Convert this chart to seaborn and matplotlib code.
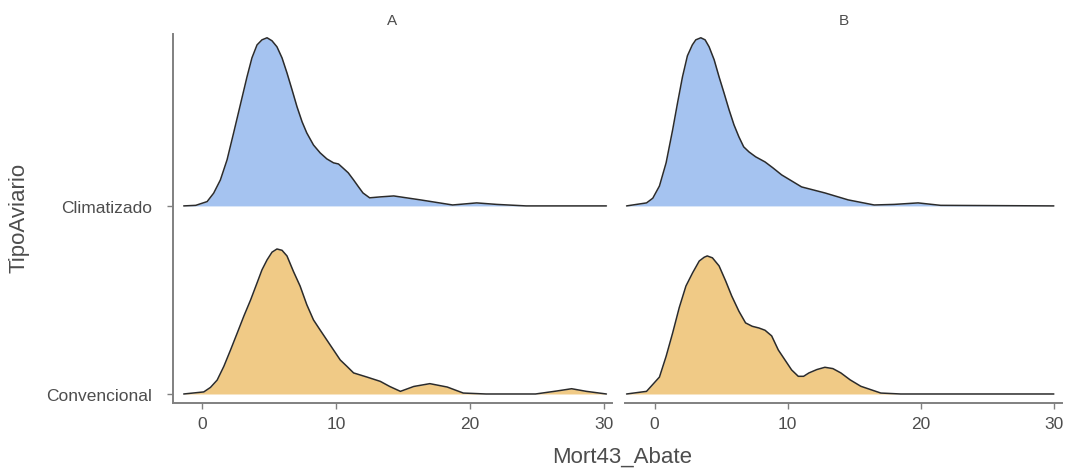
import matplotlib
matplotlib.use("Agg")
import matplotlib.pyplot as plt
import numpy as np
import pandas as pd
import seaborn as sns

# ridge heights (1.0 = spacing between the two ridges)
a_clim_x = [-1.4, -0.5, 0.35, 0.84, 1.34, 1.84, 2.33, 2.83, 3.33, 3.7, 4.08, 4.45, 4.83, 5.2,
            5.57, 5.95, 6.32, 6.7, 7.07, 7.45, 7.8, 8.3, 8.8, 9.3, 9.8, 10.17, 10.5, 10.9,
            11.3, 11.65, 12.0, 12.5, 13.3, 14.3, 16.3, 18.7, 20.5, 22.0, 24.2, 30.2]
a_clim_h = [0, .003, .023, .068, .138, .245, .388, .537, .686, .787, .856, .883, .894, .878,
            .846, .787, .707, .617, .527, .447, .388, .324, .282, .250, .229, .223, .202, .176,
            .138, .103, .069, .043, .048, .053, .032, .005, .016, .008, 0, 0]

b_clim_x = [-2.1, -0.6, -0.13, 0.37, 0.87, 1.36, 1.73, 2.1, 2.47, 2.84, 3.1, 3.48, 3.8, 4.1,
            4.48, 4.85, 5.22, 5.6, 5.97, 6.34, 6.7, 7.1, 7.6, 8.3, 8.9, 9.55, 11.05, 12.8,
            14.55, 16.5, 18.0, 19.8, 21.5, 30.0]
b_clim_h = [0, .016, .041, .106, .229, .404, .548, .686, .798, .856, .883, .894, .883, .846,
            .777, .686, .601, .511, .431, .367, .314, .287, .261, .234, .202, .165, .101, .069,
            .032, .005, .008, .016, .003, 0]

a_conv_x = [-1.4, 0.1, 0.6, 1.1, 1.6, 2.1, 2.6, 3.1, 3.6, 4.08, 4.45, 4.83, 5.2, 5.57, 5.95,
            6.32, 6.8, 7.3, 7.8, 8.3, 8.8, 9.3, 9.8, 10.3, 10.8, 11.3, 12.3, 13.3, 14.0, 14.8,
            15.8, 17.0, 18.3, 19.5, 21.2, 24.9, 26.5, 27.6, 28.7, 30.2]
a_conv_h = [0, .011, .035, .074, .147, .234, .324, .415, .500, .590, .660, .713, .754, .771, .764,
            .734, .652, .574, .475, .394, .340, .287, .234, .181, .147, .112, .090, .067, .040, .014,
            .040, .055, .037, .005, 0, 0, .016, .028, .014, 0]

b_conv_x = [-2.1, -0.6, 0.37, 0.87, 1.36, 1.86, 2.36, 2.86, 3.36, 3.73, 3.96, 4.35, 4.85, 5.35,
            5.8, 6.34, 6.84, 7.34, 7.84, 8.3, 8.8, 9.3, 9.8, 10.3, 10.8, 11.2, 11.6, 12.2, 12.8,
            13.4, 14.0, 14.7, 15.5, 17.0, 18.5, 30.0]
b_conv_h = [0, .014, .090, .200, .324, .460, .574, .644, .707, .727, .734, .724, .681, .600,
            .521, .440, .378, .360, .351, .339, .309, .234, .181, .128, .094, .094, .112, .130, .142,
            .135, .112, .075, .041, .005, 0, 0]

panels = ["A", "B"]
tipos = ["Convencional", "Climatizado"]
colors = {"Climatizado": "#A5C3F0", "Convencional": "#F0CA86"}

curves = {
    ("A", "Climatizado"): (a_clim_x, a_clim_h),
    ("B", "Climatizado"): (b_clim_x, b_clim_h),
    ("A", "Convencional"): (a_conv_x, a_conv_h),
    ("B", "Convencional"): (b_conv_x, b_conv_h),
}

rows = []
for (panel, tipo), (xs, hs) in curves.items():
    for x, h in zip(xs, hs):
        rows.append({"panel": panel, "tipo": tipo, "x": x, "h": h})
df = pd.DataFrame(rows)
df["base"] = df["tipo"].map({t: i for i, t in enumerate(tipos)})
df["y"] = df["base"] + df["h"]

sns.set_style("ticks")
plt.rcParams['font.family'] = ['Liberation Sans', 'DejaVu Sans']

fig = plt.figure(figsize=(10.78, 4.77), dpi=100)
ax_a = fig.add_axes([0.1605, 0.153, 0.407, 0.774])
ax_b = fig.add_axes([0.5800, 0.153, 0.405, 0.774])

grey = "#4D4D4D"
axis_grey = "#808080"
for ax, panel in zip([ax_a, ax_b], panels):
    # draw top ridge first so the lower one sits in front
    for tipo in ["Climatizado", "Convencional"]:
        d = df[(df.panel == panel) & (df.tipo == tipo)]
        ax.fill_between(d.x, d.base, d.y, color=colors[tipo], lw=0)
        sns.lineplot(data=d, x="x", y="y", ax=ax, color="#2B2B2B", lw=1.1,
                     sort=False, estimator=None)
    ax.set_xlim(-2.2, 30.6)
    ax.set_ylim(-0.048, 1.915)
    ax.set_xticks([0, 10, 20, 30])
    ax.tick_params(axis="x", colors=axis_grey, labelcolor=grey, labelsize=12.5,
                   length=4, width=1, pad=5)
    ax.set_xlabel("")
    ax.set_ylabel("")
    ax.set_title(panel, fontsize=11, color=grey, pad=7)
    for s in ["top", "right"]:
        ax.spines[s].set_visible(False)
    ax.spines["bottom"].set_color(axis_grey)
    ax.spines["bottom"].set_linewidth(1.4)

ax_a.set_yticks([0, 1])
ax_a.set_yticklabels(tipos)
ax_a.tick_params(axis="y", colors=axis_grey, labelcolor=grey, labelsize=12.5,
                 length=4, width=1, pad=11)
ax_a.spines["left"].set_color(axis_grey)
ax_a.spines["left"].set_linewidth(1.4)
ax_b.spines["left"].set_visible(False)
ax_b.set_yticks([])

fig.text(0.577, 0.042, "Mort43_Abate", ha="center", va="center", fontsize=16, color=grey)
fig.text(0.018, 0.543, "TipoAviario", ha="center", va="center", rotation=90,
         fontsize=16, color=grey)

fig.savefig("out.png", dpi=100)
